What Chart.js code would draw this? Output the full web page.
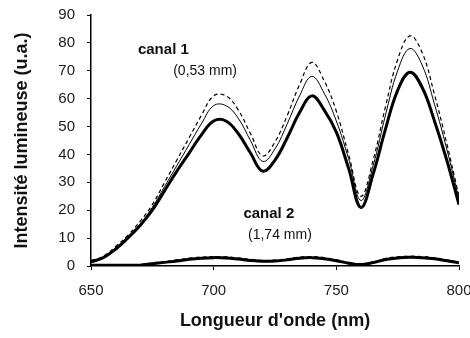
<!DOCTYPE html>
<html>
<head>
<meta charset="utf-8">
<script src="https://cdn.jsdelivr.net/npm/chart.js@4/dist/chart.umd.min.js"></script>
<style>
    html, body { margin: 0; padding: 0; background: #fff; overflow: hidden; }
    .chart_box { width: 470px; height: 338px; }
</style>
</head>
<body>
<div class="chart_box"><canvas id="chart"></canvas></div>
<script>
// longueur d'onde (nm)
const wavelengthList = [650, 655, 660, 665, 670, 675, 680, 685, 690, 695, 700, 705, 710, 715, 720, 725,
    730, 735, 740, 745, 750, 755, 760, 765, 770, 775, 780, 785, 790, 795, 800];

// canal 1 (0,53 mm) - trois courbes
const canal1ThickList = [1.5, 3, 6, 10, 14.5, 20, 27, 34, 40.5, 47, 52, 52, 47.5, 40.5, 34, 38,
    46, 55, 61, 56, 48, 35, 21, 33, 49, 63, 69.5, 64, 52, 38, 22];
const canal1ThinList = [1.5, 3, 6.5, 10.5, 15, 21, 28.5, 36, 43.5, 51, 57.5, 57.5, 53, 45, 37.5, 42,
    51, 61, 68, 62, 52, 38.5, 23.5, 36, 54, 70, 78, 72, 58, 42, 24];
const canal1DashList = [2, 3.5, 7, 11, 16, 22, 30, 38, 46, 54, 61, 61, 56, 47.5, 39.5, 44.5,
    54, 65, 73, 66.5, 55.5, 40, 25, 38, 57, 74, 82.5, 76.5, 61.5, 44, 25];

// canal 2 (1,74 mm)
const canal2ThickList = [0.3, 0.3, 0.3, 0.3, 0.3, 0.8, 1.3, 1.8, 2.4, 2.8, 3, 2.9, 2.5, 2, 1.7, 1.8,
    2.2, 2.8, 3, 2.6, 1.9, 1, 0.5, 1.2, 2.3, 2.9, 3.1, 3, 2.6, 1.9, 1.2];
const canal2DashList = [0.5, 0.5, 0.5, 0.5, 0.5, 1.1, 1.6, 2.2, 2.8, 3.2, 3.4, 3.3, 2.9, 2.4, 2, 2.1,
    2.6, 3.2, 3.4, 3, 2.2, 1.3, 0.7, 1.5, 2.7, 3.3, 3.5, 3.4, 3, 2.2, 1.4];

const xTickList = [650, 700, 750, 800];
const yTickList = [0, 10, 20, 30, 40, 50, 60, 70, 80, 90];

// textes dans le graphique (position en nm / u.a.)
const noteList = [
    { text: 'canal 1', x: 679.5, y: 77.5, bold: true },
    { text: '(0,53 mm)', x: 696.5, y: 70, bold: false },
    { text: 'canal 2', x: 722.5, y: 18.6, bold: true },
    { text: '(1,74 mm)', x: 727, y: 11, bold: false }
];

const FONT = "'Liberation Sans', Arial, sans-serif";

function toPoints(valueList) {
    return wavelengthList.map((w, i) => ({ x: w, y: valueList[i] }));
}

function makeDataset(valueList, width, dash) {
    return {
        data: toPoints(valueList),
        borderColor: '#000',
        borderWidth: width,
        borderDash: dash,
        pointRadius: 0,
        fill: false,
        tension: 0.4
    };
}

const notesPlugin = {
    id: 'notes',
    afterDatasetsDraw(chart) {
        const ctx = chart.ctx;
        const xScale = chart.scales.x;
        const yScale = chart.scales.y;
        ctx.save();
        ctx.fillStyle = '#111';
        ctx.textAlign = 'center';
        ctx.textBaseline = 'middle';
        noteList.forEach(note => {
            ctx.font = (note.bold ? 'bold 15px ' : '14px ') + FONT;
            ctx.fillText(note.text, xScale.getPixelForValue(note.x), yScale.getPixelForValue(note.y));
        });
        ctx.restore();
    }
};

const chartElement = document.getElementById('chart');

new Chart(chartElement, {
    type: 'line',
    data: {
        datasets: [
            makeDataset(canal1DashList, 1.2, [4, 3]),
            makeDataset(canal1ThinList, 1, []),
            makeDataset(canal1ThickList, 3, []),
            makeDataset(canal2DashList, 1.2, [4, 3]),
            makeDataset(canal2ThickList, 3, [])
        ]
    },
    options: {
        responsive: true,
        maintainAspectRatio: false,
        animation: false,
        layout: { padding: { left: 0, top: 15, right: 11, bottom: 0 } },
        plugins: {
            legend: { display: false },
            tooltip: { enabled: false }
        },
        scales: {
            x: {
                type: 'linear',
                min: 650,
                max: 800,
                afterBuildTicks: scale => { scale.ticks = xTickList.map(v => ({ value: v })); },
                afterFit: scale => { scale.height = 72; scale.paddingLeft = 0; scale.paddingRight = 0; },
                grid: { drawOnChartArea: false, drawTicks: true, tickLength: 4, color: '#000' },
                border: { color: '#000', width: 1.5 },
                ticks: { color: '#1a1a1a', padding: 12, maxRotation: 0, font: { family: FONT, size: 15 } },
                title: {
                    display: true,
                    text: "Longueur d'onde (nm)",
                    color: '#111',
                    padding: { top: 0, bottom: 6 },
                    font: { family: FONT, size: 18, weight: 'bold' }
                }
            },
            y: {
                min: 0,
                max: 90,
                afterBuildTicks: scale => { scale.ticks = yTickList.map(v => ({ value: v })); },
                afterFit: scale => { scale.width = 91; scale.paddingTop = 0; scale.paddingBottom = 0; },
                grid: { drawOnChartArea: false, drawTicks: true, tickLength: 4, color: '#000' },
                border: { color: '#000', width: 1.5 },
                ticks: { color: '#1a1a1a', padding: 12, font: { family: FONT, size: 15 } },
                title: {
                    display: true,
                    text: 'Intensité lumineuse (u.a.)',
                    color: '#111',
                    padding: { top: 11, bottom: 0 },
                    font: { family: FONT, size: 18, weight: 'bold' }
                }
            }
        }
    },
    plugins: [notesPlugin]
});
</script>
</body>
</html>
